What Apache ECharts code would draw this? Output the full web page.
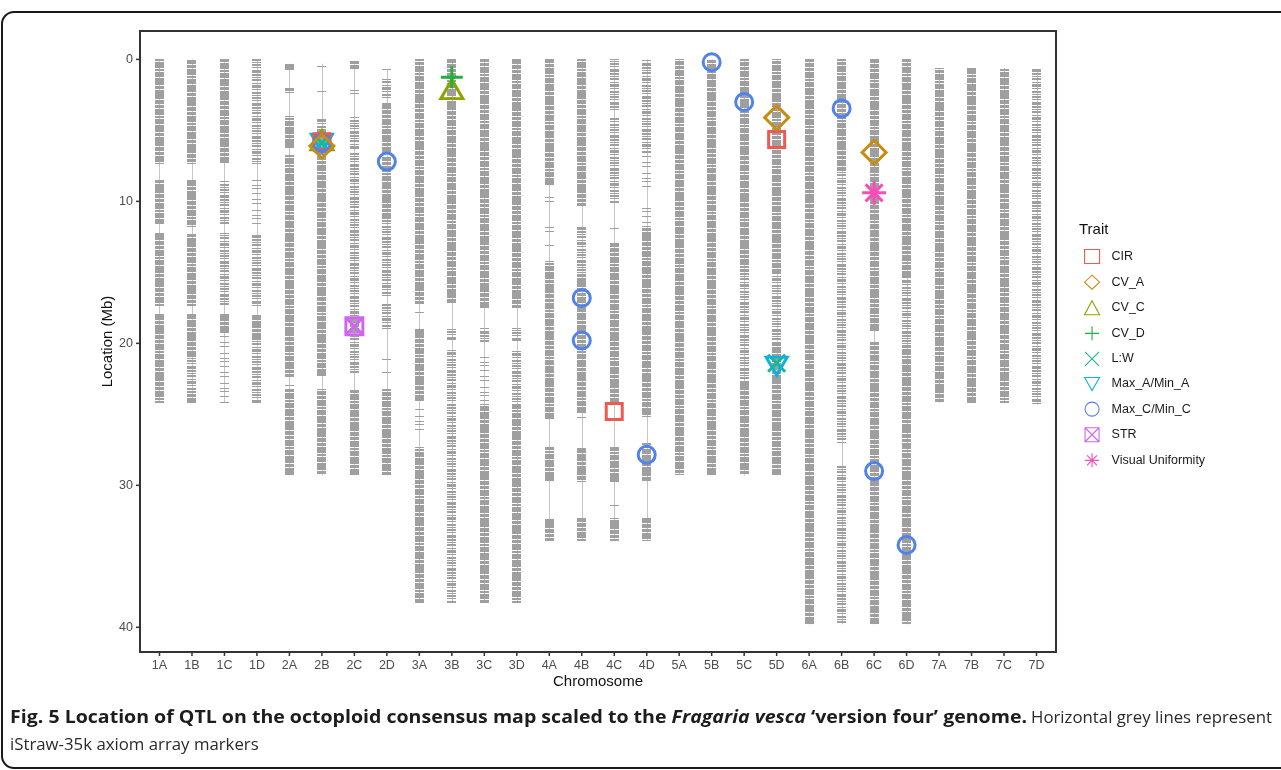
<!DOCTYPE html>
<html>
<head>
<meta charset="utf-8">
<script src="https://cdn.jsdelivr.net/npm/echarts@6/dist/echarts.min.js"></script>
<style>
  html, body { margin: 0; padding: 0; background: #ffffff; }
  #chart { width: 1281px; height: 770px; }
</style>
</head>
<body>
<div id="chart"></div>
<script>
// ---- Data ----------------------------------------------------------------
const chromosomes = ['1A','1B','1C','1D','2A','2B','2C','2D','3A','3B','3C','3D',
                     '4A','4B','4C','4D','5A','5B','5C','5D','6A','6B','6C','6D',
                     '7A','7B','7C','7D'];
const yTickValues = [0, 10, 20, 30, 40];

// Marker stretches along each chromosome: [start Mb, end Mb, density]
// density: 2 = dense markers, 1 = medium, 0 = sparse
const blocks1A = [[0,7.4,2],[8.5,11.6,2],[12.2,17.4,2],[17.9,24.2,2]];
const blocks1B = [[0,7.4,2],[8.5,11.8,2],[12.2,17.4,2],[17.9,20.8,2],[20.8,23.4,1],[23.4,24.2,2]];
const blocks1C = [[0,7.4,2],[8.5,11.6,1],[12.2,17.4,1],[17.9,19.3,2],[19.3,24.2,0]];
const blocks1D = [[0,7.4,1],[8.5,11.6,0],[12.2,17.4,1],[17.9,19.6,2],[19.6,24.2,1]];
const blocks2A = [[0.3,0.8,2],[2.0,2.4,2],[4.0,6.3,2],[6.7,22.4,2],[22.9,22.9,0],[23.2,29.3,2]];
const blocks2B = [[0.3,0.6,0],[2.1,2.4,0],[4.2,5.0,1],[5.0,22.3,2],[23.2,29.3,2]];
const blocks2C = [[0.1,0.7,2],[1.9,2.5,0],[4.0,6.3,1],[6.6,18.3,1],[18.3,19.3,2],[19.4,22.2,1],[23.2,29.3,2]];
const blocks2D = [[0.7,0.7,0],[1.4,2.7,1],[3.1,6.6,2],[6.8,11.5,2],[11.5,16.7,1],[17.2,19.0,1],[21.1,21.1,0],[22.0,22.0,0],[23.2,29.3,2]];
const blocks3A = [[0,17.2,2],[17.8,17.8,0],[18.9,24.1,2],[24.5,26.1,0],[27.3,38.3,2]];
const blocks3B = [[0,17.2,2],[18.9,19.8,1],[20.5,24.1,1],[24.3,38.3,1]];
const blocks3C = [[0,17.5,2],[18.9,20.0,1],[20.8,24.3,0],[24.3,38.3,2]];
const blocks3D = [[0,17.5,2],[18.9,19.8,1],[20.5,24.1,1],[24.3,38.3,2]];
const blocks4A = [[0,8.9,2],[9.4,10.4,0],[11.8,12.2,0],[13.1,13.1,0],[14.2,25.3,2],[27.3,29.8,2],[32.3,33.9,2]];
const blocks4B = [[0,10.3,2],[11.8,15.0,1],[15.0,24.9,2],[25.2,25.2,0],[27.3,29.8,2],[32.3,33.9,2]];
const blocks4C = [[0,3.6,1],[4.1,10.1,1],[11.9,11.9,0],[12.9,24.3,2],[27.3,29.8,2],[31.4,31.4,0],[32.3,33.9,2]];
const blocks4D = [[0,6.6,1],[6.8,9.0,0],[10.4,11.8,0],[11.8,25.2,2],[27.0,29.8,2],[32.3,33.9,2]];
const blocks5A = [[0,29.3,2]];
const blocks5B = [[0,29.3,2]];
const blocks5C = [[0,15.0,2],[15.0,22.7,1],[22.7,29.3,2]];
const blocks5D = [[0,15.0,2],[15.0,20.0,1],[20.0,29.3,2]];
const blocks6A = [[0,39.8,2]];
const blocks6B = [[0,7.7,2],[7.7,27.0,1],[28.6,39.8,1]];
const blocks6C = [[0,19.1,2],[19.9,39.8,2]];
const blocks6D = [[0,15.5,2],[15.5,20.0,1],[20.0,39.8,2]];
const blocks7A = [[0.6,24.2,2]];
const blocks7B = [[0.6,24.2,2]];
const blocks7C = [[0.6,24.2,2]];
const blocks7D = [[0.7,24.3,1]];

const markerBlocks = {
  '1A': blocks1A, '1B': blocks1B, '1C': blocks1C, '1D': blocks1D,
  '2A': blocks2A, '2B': blocks2B, '2C': blocks2C, '2D': blocks2D,
  '3A': blocks3A, '3B': blocks3B, '3C': blocks3C, '3D': blocks3D,
  '4A': blocks4A, '4B': blocks4B, '4C': blocks4C, '4D': blocks4D,
  '5A': blocks5A, '5B': blocks5B, '5C': blocks5C, '5D': blocks5D,
  '6A': blocks6A, '6B': blocks6B, '6C': blocks6C, '6D': blocks6D,
  '7A': blocks7A, '7B': blocks7B, '7C': blocks7C, '7D': blocks7D
};

// QTL positions: [chromosome, location Mb]
const qtlCIR   = [['2B', 5.8], ['4C', 24.8], ['5D', 5.65]];
const qtlCV_A  = [['2B', 6.1], ['5D', 4.1], ['6C', 6.55]];
const qtlCV_C  = [['2B', 5.7], ['3B', 2.1]];
const qtlCV_D  = [['3B', 1.25]];
const qtlLW    = [['2B', 5.9], ['5D', 21.4]];
const qtlMaxA  = [['2B', 5.9], ['5D', 21.6]];
const qtlMaxC  = [['2B', 5.9], ['2D', 7.2], ['4B', 16.8], ['4B', 19.8], ['4D', 27.85],
                  ['5B', 0.2], ['5C', 3.0], ['6B', 3.45], ['6C', 29.0], ['6D', 34.2]];
const qtlSTR   = [['2C', 18.8]];
const qtlVU    = [['6C', 9.4]];

// ---- Styling / layout ---------------------------------------------------
const FONT = '"Liberation Sans", Arial, sans-serif';
const TICK_GREY = '#9f9f9f';
const SPINE_GREY = '#c6c6c6';
const AXIS_DARK = '#333333';
const COL_W = 9;
const TICK_LEN = 4;

const PANEL = { left: 140, top: 31, width: 916, height: 621 };
const X_MIN = -0.6, X_MAX = 27.6;      // half-category padding either side
const Y_MIN = -2.0, Y_MAX = 41.74;     // inverted: Y_MIN at the top

// stripe rows for the marker textures ('#' = marker line, '.' = gap)
const stripeRows = {
  2: '#####.####.###.######.##.#####.#######.###.####',
  1: '##.#.##..#.###.#..##.#.##.#..###.',
  0: '#....#.....#...#......#....#..'
};
function makeStripe(rows) {
  const c = document.createElement('canvas');
  c.width = COL_W; c.height = rows.length;
  const ctx = c.getContext('2d');
  ctx.fillStyle = TICK_GREY;
  for (let i = 0; i < rows.length; i++) {
    if (rows[i] === '#') ctx.fillRect(0, i, COL_W, 1);
  }
  return c;
}
const stripes = { 0: makeStripe(stripeRows[0]), 1: makeStripe(stripeRows[1]), 2: makeStripe(stripeRows[2]) };

// flattened rows for the custom series
const blockRows = [];
const spineRows = [];
chromosomes.forEach((c, i) => {
  const b = markerBlocks[c];
  spineRows.push([i, b[0][0], b[b.length - 1][1]]);
  b.forEach(r => blockRows.push([i, r[0], r[1], r[2]]));
});

// axis tick rows: [position value, 0 = chromosome tick / 1 = Mb tick]
const tickRows = chromosomes.map((c, i) => [i, 0]).concat(yTickValues.map(v => [v, 1]));

const idx = name => chromosomes.indexOf(name);
const toPoints = arr => arr.map(d => [idx(d[0]), d[1]]);

const TRI_DOWN = 'path://M0,0L10,0L5,8.66Z';
const traits = [
  { name: 'CIR', data: qtlCIR, symbol: 'rect', size: 16, color: '#EC5A52', z: 4 },
  { name: 'CV_A', data: qtlCV_A, symbol: 'diamond', size: 24, color: '#C98C12', z: 7 },
  { name: 'CV_C', data: qtlCV_C, symbol: 'triangle', size: [22, 19], color: '#8FA300', z: 3 },
  { name: 'CV_D', data: qtlCV_D, symbol: 'path://M0,5L10,5M5,0L5,10', size: 22, color: '#22B040', z: 4 },
  { name: 'L:W', data: qtlLW, symbol: 'path://M0,0L10,10M10,0L0,10', size: 17, color: '#14B892', z: 3 },
  { name: 'Max_A/Min_A', data: qtlMaxA, symbol: TRI_DOWN, size: [21, 18], color: '#12B2D6', z: 3 },
  { name: 'Max_C/Min_C', data: qtlMaxC, symbol: 'circle', size: 17, color: '#4F82EA', z: 5 },
  { name: 'STR', data: qtlSTR, symbol: 'path://M0,0L10,0L10,10L0,10ZM0,0L10,10M10,0L0,10', size: 17, color: '#D264F2', z: 4 },
  { name: 'Visual Uniformity', data: qtlVU,
    symbol: 'path://M5,0L5,10M0,5L10,5M1.46,1.46L8.54,8.54M8.54,1.46L1.46,8.54', size: 24, color: '#F64DBB', z: 4 }
];

const scatterSeries = traits.map(t => ({
  type: 'scatter',
  name: t.name,
  data: toPoints(t.data),
  symbol: t.symbol,
  symbolSize: t.size,
  z: t.z,
  itemStyle: { color: 'transparent', borderColor: t.color, borderWidth: 3, opacity: 1 },
  emphasis: { disabled: true },
  silent: true
}));

const spineSeries = {
  type: 'custom',
  name: 'spine',
  data: spineRows,
  silent: true,
  z: 1,
  renderItem: function (params, api) {
    const a = api.coord([api.value(0), api.value(1)]);
    const b = api.coord([api.value(0), api.value(2)]);
    const x = Math.round(a[0]) + 0.5;
    return { type: 'line', shape: { x1: x, y1: a[1], x2: x, y2: b[1] },
             style: { stroke: SPINE_GREY, lineWidth: 1 } };
  }
};

const blockSeries = {
  type: 'custom',
  name: 'markers',
  data: blockRows,
  silent: true,
  z: 2,
  renderItem: function (params, api) {
    const ci = api.value(0);
    const a = api.coord([ci, api.value(1)]);
    const b = api.coord([ci, api.value(2)]);
    const top = Math.round(a[1]);
    const h = Math.max(1, Math.round(b[1]) - top);
    const x = Math.round(a[0] - COL_W / 2);
    const fill = h <= 1 ? TICK_GREY
      : { image: stripes[api.value(3)], repeat: 'repeat', x: 0, y: (ci * 7) % 13 };
    return { type: 'rect', shape: { x: x, y: top, width: COL_W, height: h }, style: { fill: fill } };
  }
};

// outward axis ticks along the bottom and left edges of the panel
const tickSeries = {
  type: 'custom',
  name: 'axisTicks',
  data: tickRows,
  silent: true,
  clip: false,
  z: 10,
  encode: { x: -1, y: -1 },
  renderItem: function (params, api) {
    const v = api.value(0);
    if (api.value(1) === 0) {
      const p = api.coord([v, Y_MAX]);
      return { type: 'line', shape: { x1: p[0], y1: p[1], x2: p[0], y2: p[1] + TICK_LEN },
               style: { stroke: AXIS_DARK, lineWidth: 1.5 } };
    }
    const q = api.coord([X_MIN, v]);
    return { type: 'line', shape: { x1: q[0] - TICK_LEN, y1: q[1], x2: q[0], y2: q[1] },
             style: { stroke: AXIS_DARK, lineWidth: 1.5 } };
  }
};

// ---- Caption text widths ---------------------------------------------------
const capBold1 = 'Fig. 5 Location of QTL on the octoploid consensus map scaled to the ';
const capItal = 'Fragaria vesca';
const capBold2 = ' \u2018version four\u2019 genome.';
const capReg1 = 'Horizontal grey lines represent';
const capReg2 = 'iStraw-35k axiom array markers';
const CAP_FONT = '"Open Sans", "DejaVu Sans", sans-serif';
const CAP_SIZE = 17;
const mctx = document.createElement('canvas').getContext('2d');
function measure(str, style) { mctx.font = style + ' ' + CAP_SIZE + 'px ' + CAP_FONT; return mctx.measureText(str).width; }
const boldW = measure(capBold1, 'bold') + measure(capItal, 'italic bold') + measure(capBold2, 'bold');
const scaleBold = 1017 / boldW;
const scaleReg = 241 / measure(capReg1, 'normal');

const labelStyle = { fontFamily: FONT, fontSize: 12.5, color: '#4d4d4d' };

// ---- Chart -----------------------------------------------------------------
const chart = echarts.init(document.getElementById('chart'), null, { renderer: 'canvas' });

chart.setOption({
  animation: false,
  backgroundColor: '#ffffff',
  title: {
    text: 'Trait', left: 1079, top: 222, padding: 0,
    textStyle: { fontFamily: FONT, fontSize: 15, fontWeight: 'normal', color: '#111' }
  },
  legend: {
    orient: 'vertical',
    left: 1084, top: 249, padding: 0,
    itemWidth: 15, itemHeight: 14, itemGap: 10.5,
    selectedMode: false,
    symbolKeepAspect: true,
    data: traits.map(t => t.name),
    itemStyle: { borderWidth: 1.1 },
    textStyle: { fontFamily: FONT, fontSize: 12.5, color: '#1a1a1a', lineHeight: 14, padding: [0, 0, 0, 7] }
  },
  grid: Object.assign({ show: true, borderColor: AXIS_DARK, borderWidth: 2, backgroundColor: 'transparent' }, PANEL),
  xAxis: {
    type: 'value', min: X_MIN, max: X_MAX,
    name: 'Chromosome', nameLocation: 'middle', nameGap: 22,
    nameMoveOverlap: false,
    nameTextStyle: { fontFamily: FONT, fontSize: 15, color: '#111' },
    axisLine: { show: false, onZero: false },
    splitLine: { show: false },
    axisTick: { show: false },
    axisLabel: Object.assign({ margin: 7, customValues: chromosomes.map((c, i) => i),
                               formatter: v => chromosomes[Math.round(v)] || '' }, labelStyle)
  },
  yAxis: {
    type: 'value', inverse: true, min: Y_MIN, max: Y_MAX,
    name: 'Location (Mb)', nameLocation: 'middle', nameGap: 25, nameRotate: 90,
    nameMoveOverlap: false,
    nameTextStyle: { fontFamily: FONT, fontSize: 15, color: '#111' },
    axisLine: { show: false, onZero: false },
    splitLine: { show: false },
    axisTick: { show: false },
    axisLabel: Object.assign({ margin: 7, customValues: yTickValues }, labelStyle)
  },
  series: [spineSeries, blockSeries].concat(scatterSeries, [tickSeries]),
  graphic: [
    {
      // figure frame: open on the right edge of the page
      type: 'rect', silent: true,
      shape: { x: 2, y: 12, width: 1320, height: 756, r: 12 },
      style: { fill: 'none', stroke: '#1a1a1a', lineWidth: 2 }
    },
    {
      type: 'text', x: 10, y: 718, scaleX: scaleBold, silent: true,
      style: {
        text: '{b|' + capBold1 + '}{bi|' + capItal + '}{b|' + capBold2 + '}',
        verticalAlign: 'middle',
        rich: {
          b: { fontFamily: CAP_FONT, fontSize: CAP_SIZE, fontWeight: 'bold', fill: '#1d1d1b' },
          bi: { fontFamily: CAP_FONT, fontSize: CAP_SIZE, fontWeight: 'bold', fontStyle: 'italic', fill: '#1d1d1b' }
        }
      }
    },
    {
      type: 'text', x: 1031, y: 718, scaleX: scaleReg, silent: true,
      style: { text: capReg1, verticalAlign: 'middle', fontFamily: CAP_FONT, fontSize: CAP_SIZE, fill: '#2a2a2a' }
    },
    {
      type: 'text', x: 10, y: 745, scaleX: scaleReg, silent: true,
      style: { text: capReg2, verticalAlign: 'middle', fontFamily: CAP_FONT, fontSize: CAP_SIZE, fill: '#2a2a2a' }
    }
  ]
});
</script>
</body>
</html>
